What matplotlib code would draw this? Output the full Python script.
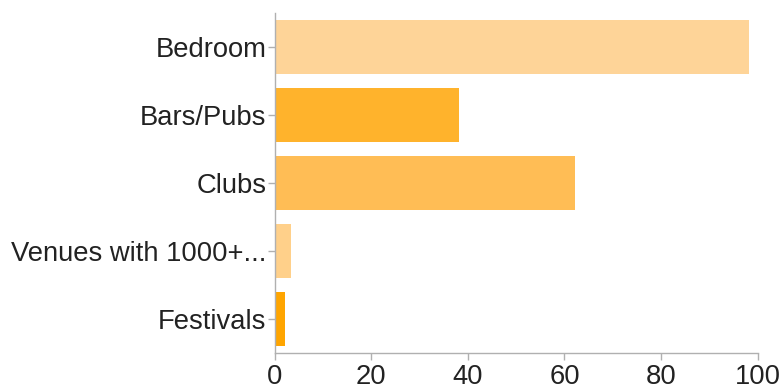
import matplotlib.pyplot as plt

# data
categories = ["Bedroom", "Bars/Pubs", "Clubs", "Venues with 1000+...", "Festivals"]
values = [98.3, 38.2, 62.2, 3.3, 2.1]
bar_colors = ["#fed498", "#ffb32c", "#ffbd55", "#ffd08a", "#ffa500"]
xticks = [0, 20, 40, 60, 80, 100]

plt.rcParams["font.family"] = ["Liberation Sans", "DejaVu Sans"]

fig = plt.figure(figsize=(7.82, 3.89), dpi=100)
ax = fig.add_axes([0.3513, 0.0925, 0.6175, 0.8745])

ypos = list(range(len(categories)))
ax.barh(ypos, values, height=0.79, color=bar_colors)

ax.set_ylim(len(categories) - 0.5, -0.5)
ax.set_xlim(0, 100)
ax.set_yticks(ypos)
ax.set_yticklabels(categories)
ax.set_xticks(xticks)

for s in ["top", "right"]:
    ax.spines[s].set_visible(False)
for s in ["left", "bottom"]:
    ax.spines[s].set_color("#b0b0b0")
    ax.spines[s].set_linewidth(1.0)

ax.tick_params(axis="both", colors="#b0b0b0", length=5, width=1.0,
               labelsize=19.7, labelcolor="#222222")
ax.tick_params(axis="y", pad=1)
ax.tick_params(axis="x", pad=3)

fig.savefig("out.png", dpi=100)
